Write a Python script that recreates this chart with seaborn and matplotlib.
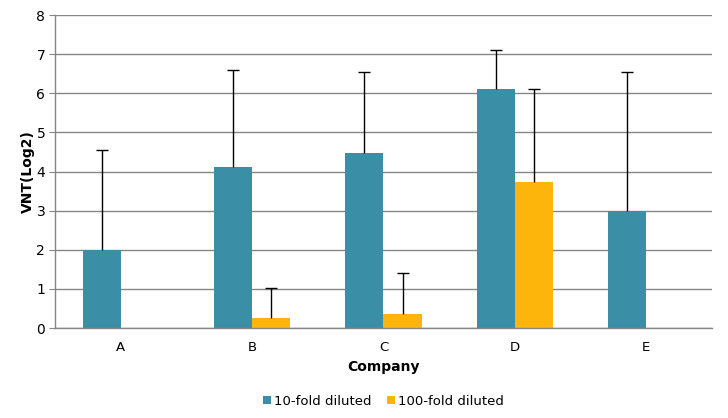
import numpy as np
import pandas as pd
import matplotlib
matplotlib.use("Agg")
import matplotlib.pyplot as plt
import seaborn as sns

# Data
companies = ["A", "B", "C", "D", "E"]
series = ["10-fold diluted", "100-fold diluted"]
vnt_10 = [2.0, 4.12, 4.48, 6.12, 3.0]
vnt_100 = [0.0, 0.25, 0.36, 3.74, 0.0]
err_10 = [2.55, 2.48, 2.07, 0.98, 3.55]
err_100 = [0.0, 0.77, 1.05, 2.38, 0.0]

colors = ["#3A8FA7", "#FDB50C"]

df = pd.DataFrame({
    "Company": companies * 2,
    "Series": [series[0]] * 5 + [series[1]] * 5,
    "VNT": vnt_10 + vnt_100,
})
errs = err_10 + err_100

sns.set_style("white")
plt.rcParams["font.family"] = ["DejaVu Sans"]
plt.rcParams["text.color"] = "black"
plt.rcParams["xtick.color"] = "black"
plt.rcParams["ytick.color"] = "black"
plt.rcParams["axes.labelcolor"] = "black"

fig = plt.figure(figsize=(7.28, 4.18), dpi=100)
ax = fig.add_axes([0.0755, 0.2153, 0.9025, 0.7488])

sns.barplot(data=df, x="Company", y="VNT", hue="Series", palette=colors,
            width=0.58, saturation=1, ax=ax, legend=True, errorbar=None,
            linewidth=0)

# upper-only error bars with a cap at the top
for patch, e in zip(ax.patches, errs):
    if e > 0:
        xc = patch.get_x() + patch.get_width() / 2
        h = patch.get_height()
        ax.vlines(xc, h, h + e, color="black", linewidth=1, zorder=3)
        ax.plot([xc], [h + e], marker="_", markersize=8, markeredgewidth=1,
                color="black", zorder=3)

ax.set_ylim(0, 8)
ax.set_yticks(range(0, 9))
ax.set_xlim(-0.5, 4.5)
ax.yaxis.grid(True, color="#868686", linewidth=1)
ax.set_axisbelow(True)
for s in ["top", "right"]:
    ax.spines[s].set_visible(False)
for s in ["left", "bottom"]:
    ax.spines[s].set_color("#868686")
    ax.spines[s].set_linewidth(1)
ax.tick_params(axis="y", left=True, length=4, color="#868686", labelcolor="black",
               labelsize=10, pad=3)
ax.tick_params(axis="x", bottom=False, labelsize=9.5, pad=6)

ax.set_xlabel("Company", fontsize=10, fontweight="bold", labelpad=4)
ax.set_ylabel("VNT(Log2)", fontsize=10, fontweight="bold", labelpad=1)

ax.legend(loc="upper center", bbox_to_anchor=(0.5, -0.175), ncol=2, frameon=False,
          fontsize=9.5, handlelength=0.6, handleheight=0.6, handletextpad=0.2,
          columnspacing=1.2)

fig.savefig("out.png", dpi=100)
